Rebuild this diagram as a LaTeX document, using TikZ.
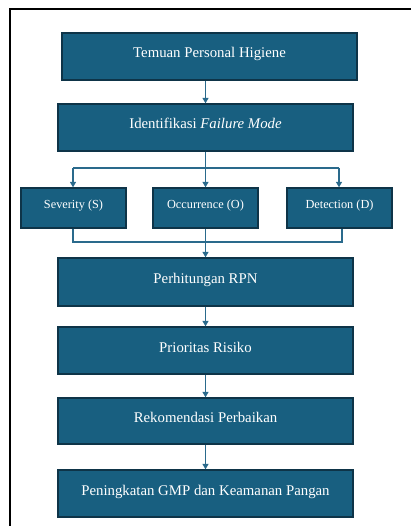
\documentclass[tikz,border=0pt]{standalone}
\usepackage{fontspec}
\setmainfont{Liberation Serif}
\usetikzlibrary{arrows.meta}
\definecolor{boxfill}{HTML}{185F80}
\definecolor{boxline}{HTML}{0E3448}
\definecolor{arrcol}{HTML}{2A6A8C}
\tikzset{
  x=1pt,y=-1pt,
  bigbox/.style={draw=boxline,line width=1.3pt,fill=boxfill,text=white,minimum width=295pt,minimum height=47pt,inner sep=0pt,text height=10pt,text depth=7pt,font=\fontsize{14.8}{17}\selectfont},
  smallbox/.style={draw=boxline,line width=1.3pt,fill=boxfill,text=white,minimum width=105pt,minimum height=40pt,inner sep=0pt,text height=8pt,text depth=6pt,font=\fontsize{12.3}{14}\selectfont},
  arr/.style={draw=arrcol,line width=1.2pt,-{Triangle[length=5.5pt,width=6pt]}},
  ln/.style={draw=arrcol,line width=1.2pt},
  frameline/.style={draw=black,line width=2pt}
}
\begin{document}
\begin{tikzpicture}
\useasboundingbox (0,0) rectangle (411,526);
\coordinate (fa) at (10,527);
\coordinate (fb) at (10,9);
\coordinate (fc) at (412,9);
\draw[frameline] (fa) -- (fb) -- (fc);

\node[bigbox] (b1) at (209.5,56.5) {Temuan Personal Higiene};
\node[bigbox] (b2) at (205.5,127.5) {Identifikasi \textit{Failure Mode}};
\node[smallbox] (sev) at (73.5,208) {Severity (S)};
\node[smallbox] (occ) at (205.5,208) {Occurrence (O)};
\node[smallbox] (det) at (339.5,208) {Detection (D)};
\node[bigbox,minimum height=48pt] (rpn) at (205.5,282) {Perhitungan RPN};
\node[bigbox] (pri) at (205.5,350.5) {Prioritas Risiko};
\node[bigbox,minimum height=46pt] (rek) at (205.5,421) {Rekomendasi Perbaikan};
\node[bigbox] (pen) at (205.5,493.5) {Peningkatan GMP dan Keamanan Pangan};

\draw[arr] (b1.south -| b2.north) -- (b2.north);

\coordinate (bl) at (73,168);
\coordinate (br) at (339,168);
\draw[ln] (bl) -- (br);
\draw[arr] (b2.south) -- (occ.north);
\draw[arr] (bl) -- (bl |- sev.north);
\draw[arr] (br) -- (br |- det.north);

\coordinate (ml) at (73,242);
\coordinate (mr) at (342,242);
\draw[ln] (ml |- sev.south) -- (ml) -- (mr) -- (mr |- det.south);
\draw[arr] (occ.south) -- (rpn.north);

\draw[arr] (rpn.south) -- (pri.north);
\draw[arr] (pri.south) -- (rek.north);
\draw[arr] (rek.south) -- (pen.north);
\end{tikzpicture}
\end{document}
